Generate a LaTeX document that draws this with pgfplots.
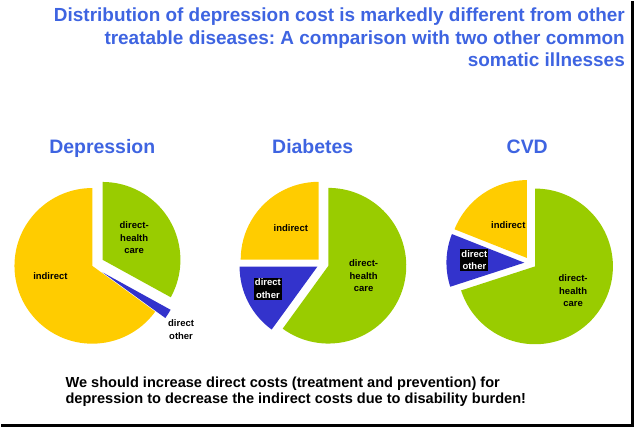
\documentclass[border=0pt]{standalone}
\usepackage{pgfplots}
\pgfplotsset{compat=1.18}
\usepackage{pgfplotstable}
\usepackage{fontspec}
\setmainfont{Liberation Sans}
\usetikzlibrary{calc}
\frenchspacing

\definecolor{ttl}{RGB}{62,100,225}
\definecolor{pyel}{RGB}{255,204,0}
\definecolor{pgrn}{RGB}{153,204,0}
\definecolor{pblu}{RGB}{51,51,204}

\tikzset{
  lbl/.style={font=\bfseries\fontsize{9.5}{12.5}\selectfont, align=center},
  box/.style={lbl, fill=black, text=white, inner sep=1.2pt},
}

% share of total cost, percent
\pgfplotstableread{
disease indirect health other
Depression 65 33 2
Diabetes 25 60 15
CVD 19 70 11
}\costs

% one slice: centre x, centre y, start angle, end angle, explode, colour
\newcommand\slice[6]{%
  \fill[#6] ($(axis cs:#1,#2)+({(#3+#4)/2}:#5pt)$) -- ++(#3:78pt)
    arc[start angle=#3, end angle=#4, radius=78pt] -- cycle;}

\begin{document}
\begin{tikzpicture}
\pgfplotstablegetelem{0}{indirect}\of\costs \pgfmathsetmacro\dA{90+3.6*\pgfplotsretval}
\pgfplotstablegetelem{0}{other}\of\costs \pgfmathsetmacro\dB{\dA+3.6*\pgfplotsretval}
\pgfplotstablegetelem{1}{indirect}\of\costs \pgfmathsetmacro\bA{90+3.6*\pgfplotsretval}
\pgfplotstablegetelem{1}{other}\of\costs \pgfmathsetmacro\bB{\bA+3.6*\pgfplotsretval}
\pgfplotstablegetelem{2}{indirect}\of\costs \pgfmathsetmacro\cA{90+3.6*\pgfplotsretval}
\pgfplotstablegetelem{2}{other}\of\costs \pgfmathsetmacro\cB{\cA+3.6*\pgfplotsretval}
\begin{axis}[
  width=636pt, height=429pt, scale only axis,
  xmin=0, xmax=636, ymin=0, ymax=429,
  hide axis, clip=false,
]
\path (rel axis cs:0,0) rectangle (rel axis cs:1,1);

% Depression
\slice{91}{164}{90}{\dA}{0}{pyel}
\slice{91}{164}{\dA}{\dB}{12}{pblu}
\slice{91}{164}{\dB}{450}{12}{pgrn}
% Diabetes
\slice{322}{166}{90}{\bA}{6}{pyel}
\slice{322}{166}{\bA}{\bB}{6}{pblu}
\slice{322}{166}{\bB}{450}{6}{pgrn}
% CVD
\slice{530}{167}{90}{\cA}{6}{pyel}
\slice{530}{167}{\cA}{\cB}{6}{pblu}
\slice{530}{167}{\cB}{450}{6}{pgrn}

\node[lbl] at (axis cs:49,154) {indirect};
\node[lbl] at (axis cs:133,192) {direct-\\health\\care};
\node[lbl] at (axis cs:180,100) {direct\\other};
\node[lbl] at (axis cs:290,202) {indirect};
\node[lbl] at (axis cs:363,154) {direct-\\health\\care};
\node[box] at (axis cs:267,141) {direct\\other};
\node[lbl] at (axis cs:508,205) {indirect};
\node[lbl] at (axis cs:573,139) {direct-\\health\\care};
\node[box] at (axis cs:474,170) {direct\\other};

\begin{scope}[every node/.style={text=ttl, font=\bfseries\fontsize{19.5}{22}\selectfont, anchor=base}]
\node at (axis cs:101,277) {Depression};
\node at (axis cs:312,277) {Diabetes};
\node at (axis cs:527,277) {CVD};
\end{scope}

\begin{scope}[every node/.style={text=ttl, font=\bfseries\fontsize{19}{22}\selectfont, anchor=base east, inner sep=0pt}]
\node at (axis cs:625,409) {Distribution of depression cost is markedly different from other};
\node at (axis cs:625,386) {treatable diseases: A comparison with two other common};
\node at (axis cs:625,364) {somatic illnesses};
\end{scope}

\begin{scope}[every node/.style={font=\bfseries\fontsize{14.6}{16}\selectfont, anchor=base west, inner sep=0pt}]
\node at (axis cs:64,42) {We should increase direct costs (treatment and prevention) for};
\node at (axis cs:64,26) {depression to decrease the indirect costs due to disability burden!};
\end{scope}

\draw[line width=3pt] (axis cs:632.5,429) -- (axis cs:632.5,3.5) -- (axis cs:0,3.5);
\end{axis}
\end{tikzpicture}
\end{document}
